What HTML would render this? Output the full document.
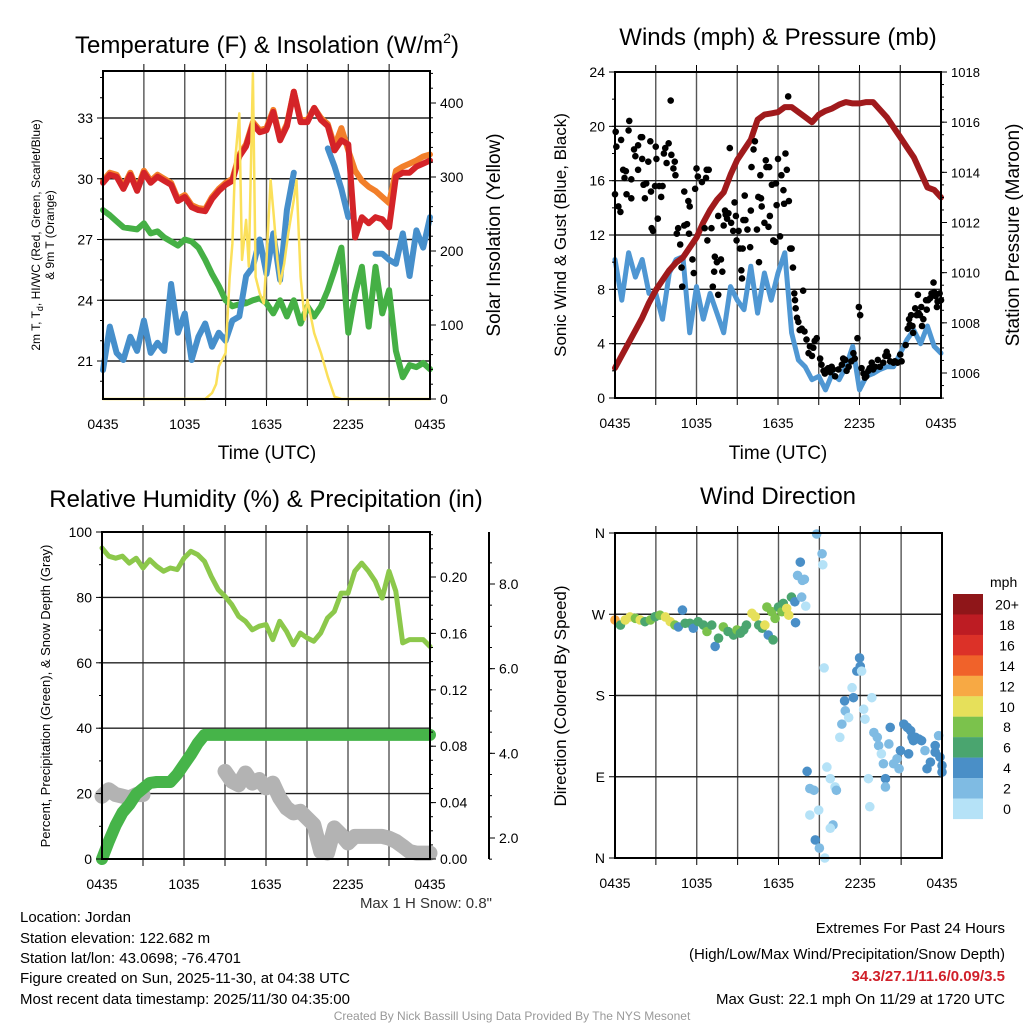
<!DOCTYPE html>
<html><head><meta charset="utf-8"><style>
body{margin:0;background:#fff}
svg{display:block;font-family:"Liberation Sans",sans-serif}
</style></head><body>
<svg id="s" width="1024" height="1024" viewBox="0 0 1024 1024">
<g id="grid"></g><g id="marks"></g><g id="axes"></g>
<g id="txt" fill="#000">
<text x="267" y="53" font-size="24" text-anchor="middle">Temperature (F) &amp; Insolation (W/m<tspan font-size="14" dy="-10">2</tspan><tspan dy="10">)</tspan></text>
<text x="778" y="45" font-size="24" text-anchor="middle">Winds (mph) &amp; Pressure (mb)</text>
<text x="266" y="507" font-size="24" text-anchor="middle">Relative Humidity (%) &amp; Precipitation (in)</text>
<text x="778" y="504" font-size="24" text-anchor="middle">Wind Direction</text>
<text x="267" y="459" font-size="19" text-anchor="middle">Time (UTC)</text>
<text x="778" y="459" font-size="19" text-anchor="middle">Time (UTC)</text>
<text transform="translate(40,235) rotate(-90)" font-size="12" text-anchor="middle">2m T, T<tspan font-size="9" dy="3">d</tspan><tspan dy="-3">, HI/WC (Red, Green, Scarlet/Blue)</tspan></text>
<text transform="translate(54,235) rotate(-90)" font-size="12" text-anchor="middle">&amp; 9m T (Orange)</text>
<text transform="translate(500,235) rotate(-90)" font-size="19" text-anchor="middle">Solar Insolation (Yellow)</text>
<text transform="translate(566,235) rotate(-90)" font-size="17" text-anchor="middle">Sonic Wind &amp; Gust (Blue, Black)</text>
<text transform="translate(1019,235) rotate(-90)" font-size="19" text-anchor="middle">Station Pressure (Maroon)</text>
<text transform="translate(50,696) rotate(-90)" font-size="13" text-anchor="middle">Percent, Precipitation (Green), &amp; Snow Depth (Gray)</text>
<text transform="translate(566,696) rotate(-90)" font-size="17" text-anchor="middle">Direction (Colored By Speed)</text>
<text x="492" y="908" font-size="15" fill="#333" text-anchor="end">Max 1 H Snow: 0.8"</text>
<g font-size="15">
<text x="20" y="922">Location: Jordan</text>
<text x="20" y="943">Station elevation: 122.682 m</text>
<text x="20" y="963">Station lat/lon: 43.0698; -76.4701</text>
<text x="20" y="983">Figure created on Sun, 2025-11-30, at 04:38 UTC</text>
<text x="20" y="1004">Most recent data timestamp: 2025/11/30 04:35:00</text>
</g>
<g font-size="15" text-anchor="end">
<text x="1005" y="933">Extremes For Past 24 Hours</text>
<text x="1005" y="959">(High/Low/Max Wind/Precipitation/Snow Depth)</text>
<text x="1005" y="981" fill="#d0202a" font-weight="bold">34.3/27.1/11.6/0.09/3.5</text>
<text x="1005" y="1004">Max Gust: 22.1 mph On 11/29 at 1720 UTC</text>
</g>
<text x="512" y="1020" font-size="12" fill="#999" text-anchor="middle">Created By Nick Bassill Using Data Provided By The NYS Mesonet</text>
</g>
</svg>
<script>
// ---- data ----
const hourT = [0,0.5,1,1.5,2,2.5,3,3.5,4,4.5,5,5.5,6,6.5,7,7.5,8,8.5,9,9.5,10,10.5,11,11.5,12,12.5,13,13.5,14,14.5,15,15.5,16,16.5,17,17.5,18,18.5,19,19.5,20,20.5,21,21.5,22,22.5,23,23.5,24];
const tempRed = [29.8,30.2,30.1,29.5,30.2,29.4,30.3,29.8,30.1,29.9,29.7,28.9,29.1,28.6,28.45,28.4,29.0,29.4,29.7,29.9,31.1,31.6,32.7,32.3,32.4,33.3,31.9,32.6,34.3,32.8,32.8,33.5,32.9,32.6,31.4,31.9,31.7,27.1,28.1,27.8,28.1,28.0,27.6,30.1,30.3,30.3,30.6,30.75,30.9];
const tempOrange = [29.9,30.3,30.2,29.6,30.3,29.5,30.4,29.9,30.2,30.0,29.8,29.0,29.2,28.7,28.55,28.5,29.1,29.5,29.8,30.0,31.2,31.7,32.8,32.4,32.5,33.4,32.0,32.7,34.3,32.9,32.9,33.5,33.0,32.7,31.6,32.5,31.4,30.4,29.9,29.6,29.4,29.1,28.8,30.4,30.6,30.75,30.9,31.1,31.2];
const tempGreen = [28.45,28.2,27.9,27.6,27.55,27.5,27.8,27.3,27.4,27.1,26.9,26.7,27.0,26.9,26.6,26.0,25.3,24.7,24.0,23.7,23.8,23.85,24.0,24.1,23.85,23.35,24.0,23.2,24.0,22.85,23.7,23.2,23.7,24.5,25.5,26.6,22.4,24.3,25.65,22.7,25.65,23.35,24.5,21.5,20.2,20.8,20.7,20.9,20.6];
const tempBlue = [20.55,22.7,21.4,21.05,22.2,21.5,23.0,21.4,21.9,21.5,24.8,22.4,23.35,21.05,22.2,22.85,21.7,22.4,22.0,23.0,23.2,25.2,25.65,27.0,25.3,27.3,25.0,28.45,30.3,null,30.9,null,null,31.5,30.6,29.5,28.1,null,null,null,26.3,26.3,26.0,25.8,27.3,25.2,27.45,26.6,28.1];
const solarTime = [0,7.5,8,8.3,8.5,8.8,9,9.3,9.5,9.7,10,10.2,10.5,10.7,11,11.2,11.5,11.8,12,12.3,12.5,12.8,13,13.3,13.6,14,14.2,14.5,14.8,15,15.3,15.5,16,16.5,17,17.5,24];
const solarValue = [0,0,8,20,44,55,62,165,210,323,386,188,242,179,440,165,143,129,188,296,255,188,156,183,224,269,296,165,107,134,107,89,62,30,3,0,0];
const pressure = [1006.2,1006.7,1007.2,1007.7,1008.2,1008.8,1009.3,1009.7,1010.1,1010.4,1010.6,1011.0,1011.4,1012.0,1012.5,1012.9,1013.2,1013.9,1014.5,1014.9,1015.3,1016.1,1016.3,1016.35,1016.4,1016.6,1016.6,1016.4,1016.2,1016.0,1016.3,1016.45,1016.55,1016.7,1016.8,1016.75,1016.75,1016.8,1016.8,1016.5,1016.2,1015.8,1015.4,1015.0,1014.6,1014.0,1013.4,1013.3,1013.0];
const windSpeed = [10.2,7.2,10.7,8.9,10.2,7.7,7.7,5.8,9.2,10.2,10.4,4.8,8.2,5.8,7.7,6.25,4.8,8.2,7.2,6.5,9.7,6.25,9.2,7.2,9.2,10.7,4.8,2.8,2.3,1.35,1.6,0.6,1.8,1.35,2.3,3.8,0.6,1.6,1.8,2.1,2.3,2.3,3.3,4.3,5.0,4.0,5.3,3.8,3.3];
const gustTime = [0.05,0.1,0.45,0,0.25,0.4,0.6,0.8,0.7,1.0,1.05,0.85,1.2,1.2,1.4,1.5,1.7,1.7,1.9,2.0,2.0,2.1,2.2,2.3,2.45,2.6,2.65,2.7,2.8,2.95,3.05,3.15,3.0,3.25,3.4,3.5,3.6,3.7,3.8,3.95,4.1,4.15,4.3,4.4,4.45,4.55,4.65,4.8,4.9,4.95,5.1,5.3,5.1,5.4,5.5,5.45,5.7,5.8,5.9,6.0,6.1,6.4,6.6,6.7,6.75,6.9,6.8,7.1,7.2,7.35,7.5,7.3,7.6,7.6,7.8,7.9,8.0,8.1,8.15,8.25,8.35,8.45,8.55,8.7,8.8,8.9,8.95,9.1,9.2,9.3,9.35,9.4,9.45,9.55,9.6,9.75,9.95,10.0,10.05,10.2,10.3,10.45,10.55,10.6,10.7,10.75,10.8,11.0,11.1,11.15,11.3,11.35,11.4,11.55,11.65,11.8,11.85,11.9,12.0,12.15,12.25,12.4,12.45,12.55,12.65,12.75,12.8,12.9,13.0,13.1,13.2,13.25,13.3,13.4,13.5,13.6,13.75,13.85,13.95,14.1,14.25,14.35,14.5,14.6,14.7,14.85,15.1,15.2,15.35,15.45,15.6,15.7,15.85,15.95,16.05,16.2,16.45,16.7,16.8,16.95,17.05,17.2,17.4,17.55,17.65,17.85,17.95,18.05,18.15,18.3,18.4,18.5,18.65,18.75,18.9,19.0,19.15,19.35,19.5,19.75,19.9,20.0,20.1,20.25,20.5,20.6,20.8,21.0,21.1,21.4,21.55,21.65,21.7,21.8,21.9,21.95,22.1,22.2,22.3,22.35,22.45,22.55,22.6,22.7,22.9,22.95,23.05,23.2,23.3,23.45,23.5,23.6,23.7,23.75,23.9,24.0];
const gustValue = [19.6,18.5,19.0,15.0,14.1,13.7,16.8,16.7,16.2,19.7,20.4,15.0,14.7,16.1,18.3,17.8,16.8,18.6,19.2,19.2,17.6,15.7,14.7,15.8,17.4,18.9,15.2,12.5,12.3,15.6,17.6,13.2,18.5,15.6,14.8,15.6,18.0,18.4,17.3,18.75,21.9,17.9,16.9,17.4,16.4,12.1,12.5,11.3,9.6,8.2,12.7,12.8,15.2,14.5,14.1,12.1,10.2,9.2,15.4,16.9,16.3,15.9,12.5,16.2,16.8,16.8,11.6,12.5,8.2,10.4,10.0,9.3,13.4,7.6,10.2,9.3,12.7,13.8,13.5,13.2,13.6,18.4,12.9,12.3,14.4,13.4,11.6,12.3,11.0,9.4,8.8,11.0,13.1,14.9,13.1,12.4,11.1,13.8,17.0,18.3,18.9,12.4,14.8,10.0,16.4,14.7,14.1,12.9,17.5,17.0,12.6,17.0,13.4,15.7,11.6,11.5,15.8,14.2,17.6,11.9,16.4,15.3,14.3,18.0,16.8,22.2,14.5,11.0,11.0,9.6,7.7,7.2,6.6,5.9,5.6,5.0,5.1,7.9,4.9,4.3,3.3,3.8,3.1,3.7,4.2,4.4,2.9,2.45,2.0,1.8,2.1,2.2,1.9,2.3,2.1,1.6,2.1,2.45,2.9,2.8,2.0,2.3,2.7,3.3,2.9,4.4,6.7,6.1,2.2,1.8,1.5,1.6,2.0,2.2,2.6,2.1,2.3,2.8,2.3,2.6,3.1,3.4,3.1,2.7,2.6,2.7,2.6,3.2,2.7,3.9,5.1,5.8,5.4,6.1,5.3,4.8,6.6,6.1,7.6,6.25,6.1,6.7,5.3,5.8,7.2,6.5,7.2,7.35,7.7,8.5,7.8,7.5,6.7,7.1,7.7,7.2];
const humidity = [95.1,92.6,92.0,92.6,90.5,92.0,89.0,91.5,89.5,88.0,89.0,88.5,92.0,94.1,93.1,91.0,86.4,82.4,80.3,77.8,74.2,72.7,70.1,71.2,71.7,67.1,72.7,69.6,65.5,69.1,67.6,66.6,69.1,73.7,75.7,81.3,81.3,88.0,90.5,88.0,84.9,79.8,88.0,81.9,66.1,67.1,67.1,67.1,65.0];
const precip = [0,0.0125,0.024,0.033,0.0385,0.046,0.05,0.054,0.0546,0.0546,0.0546,0.06,0.067,0.074,0.082,0.088,0.088,0.088,0.088,0.088,0.088,0.088,0.088,0.088,0.088,0.088,0.088,0.088,0.088,0.088,0.088,0.088,0.088,0.088,0.088,0.088,0.088,0.088,0.088,0.088,0.088,0.088,0.088,0.088,0.088,0.088,0.088,0.088,0.088];
const snowTrace = [19.2,21.2,19.7,19.2,18.7,19.7,19.7,null,null,null,null,null,null,null,null,null,null,null,26.8,23.8,22.7,26.3,23.2,24.3,21.7,23.2,18.7,15.6,14.1,14.6,12.5,10.5,2.3,1.8,9.5,7.4,4.9,6.9,6.9,6.9,6.9,6.9,6.4,5.4,3.9,2.3,1.8,1.8,1.8];
const dirTime = [0,0.4,0.75,1.1,1.5,1.85,2.2,2.6,2.95,3.3,3.7,4.05,4.4,4.65,4.95,5.15,5.5,5.75,6.1,6.5,6.75,7.1,7.35,7.6,7.95,8.3,8.7,8.95,9.2,9.45,9.65,10.05,10.3,10.55,10.8,11.0,11.25,11.15,11.5,11.6,11.75,12.0,12.25,12.35,12.6,12.75,12.95,13.2,13.25,13.4,13.7,13.75,13.9,14.0,13.6,14.8,15.2,15.25,15.35,14.1,14.3,14.6,14.3,14.95,14.7,15.0,15.4,15.55,15.8,16.15,16.25,16.0,15.8,16.5,16.65,16.85,16.9,17.15,17.4,17.5,17.75,18.0,17.95,18.1,18.25,18.35,18.6,18.7,18.85,19.0,19.25,19.35,19.55,19.7,19.85,19.85,20.1,20.2,20.45,20.7,20.85,20.95,21.2,21.45,21.7,21.8,22.05,22.3,22.5,22.75,22.9,23.15,23.5,23.5,23.75,23.85,24,24,21.55,21.9];
const dirValue = [263.7,258,263.7,267,265.5,263.7,261.8,263.7,267.3,269,267,261.8,258,256,274.6,260,260,254.5,261.8,258,250.9,258,234.4,243.5,256,250.9,247,252.7,249,252.7,258,271,267.3,258,254.5,258,247,278,272.8,241.7,265.5,278,272.8,282,276.5,269,289,283.8,260.7,313,289,307.6,308.7,279,327.7,358.9,337,324.8,210.6,96,76.9,75,47.6,53,20,11,0,100.7,87.9,78.7,75,36.6,33,133.7,148.3,174,163,155.6,188.6,177.6,207,212.4,221.6,207,164.8,153.8,87.9,56.8,177.6,139,133.7,124.5,115.4,104.4,87.9,78.7,126.3,144.7,104.4,109.9,98.9,119,148.3,144.7,141,133.7,133.7,131.8,130,119,98.9,106.2,117.2,124.5,135.5,111.7,95.2,102.5,115.4,130];
const dirSpeed = [12,6,10,10,9,10,7,8,7,9,10,10,8,5,4,7,7,4,7,6,8,7,4,6,8,7,7,8,6,7,6,10,10,7,6,10,4,8,8,6,9,7,8,6,10,10,6,4,4,3,3,2,3,1,4,3,3,1,1,4,3,3,1,1,4,3,1,1,1,1,2,3,1,1,3,4,3,1,1,4,4,4,4,1,1,1,1,1,1,3,3,3,1,3,4,3,3,4,3,3,3,4,4,4,4,4,4,4,4,3,4,4,4,4,3,4,4,4,4,4];
const speedLabels = ["20+","18","16","14","12","10","8","6","4","2","0"];
const speedColors = ["#8f1619","#bd1c23","#dc3128","#f0622a","#f7a944","#e6e05a","#7bc24c","#4aa56f","#4a8fc7","#7fbbe3","#b5e2f7"];
const xTickLabels = ["0435","1035","1635","2235","0435"];

// ---- helpers ----
const NS="http://www.w3.org/2000/svg";
const G=document.getElementById('grid'),M=document.getElementById('marks'),A=document.getElementById('axes');
function mk(tag,attrs,parent){const e=document.createElementNS(NS,tag);for(const k in attrs)e.setAttribute(k,attrs[k]);parent.appendChild(e);return e;}
function lin(d0,d1,r0,r1){return v=>r0+(v-d0)*(r1-r0)/(d1-d0);}
function pathD(xs,ys,fx,fy){let d='',pen=false;for(let i=0;i<xs.length;i++){if(ys[i]==null){pen=false;continue;}d+=(pen?'L':'M')+fx(xs[i]).toFixed(1)+','+fy(ys[i]).toFixed(1);pen=true;}return d;}
function line(name,xs,ys,fx,fy,color,w){const p=mk('path',{d:pathD(xs,ys,fx,fy),fill:'none',stroke:color,'stroke-width':w,'stroke-linejoin':'round','stroke-linecap':'round'},M);

return p;}
function txt(x,y,s,size,anchor,name){const t=mk('text',{x:x,y:y,'font-size':size,'text-anchor':anchor},A);t.textContent=s;

return t;}

function frame(P,hVals,fy){
  for(let h=3;h<24;h+=3){const x=P.fx(h);mk('line',{x1:x,x2:x,y1:P.y0,y2:P.y1,stroke:'#555','stroke-width':1.4},G);
    mk('line',{x1:x,x2:x,y1:P.y0-7,y2:P.y0,stroke:'#000','stroke-width':1},A);mk('line',{x1:x,x2:x,y1:P.y1,y2:P.y1+7,stroke:'#000','stroke-width':1},A);}
  hVals.forEach(v=>{const y=fy(v);mk('line',{x1:P.x0,x2:P.x1,y1:y,y2:y,stroke:'#222','stroke-width':1.4},G);});
  const r=mk('rect',{x:P.x0,y:P.y0,width:P.x1-P.x0,height:P.y1-P.y0,fill:'none',stroke:'#000','stroke-width':2},A);
  
  
  xTickLabels.forEach((s,i)=>{txt(P.fx(i*6),P.y1+30,s,14,'middle',P.name+'-x-tick');});
}
function yTicks(P,x,vals,fy,labels,side,minor,size){
  vals.forEach((v,i)=>{const y=fy(v);const dx=side<0?-6:6;mk('line',{x1:x,x2:x+dx,y1:y,y2:y,stroke:'#000','stroke-width':1},A);
    if(labels)txt(x+(side<0?-10:10),y+5,labels[i],size||14,side<0?'end':'start',P.name+'-y-tick');});
  (minor||[]).forEach(v=>{const y=fy(v);mk('line',{x1:x,x2:x+(side<0?-3:3),y1:y,y2:y,stroke:'#000','stroke-width':1},A);});
}
function range(a,b,s){const r=[];for(let v=a;v<=b+1e-9;v+=s)r.push(+v.toFixed(4));return r;}

// ---- Panel 1 ----
const P1={name:'temp',x0:103,x1:430,y0:71,y1:399};P1.fx=lin(0,24,P1.x0,P1.x1);
const fT=lin(21,33,361,118),fS=lin(0,400,399,103);
frame(P1,[21,24,27,30,33],fT);
yTicks(P1,P1.x0,[21,24,27,30,33],fT,["21","24","27","30","33"],-1,range(20,35,1));
yTicks(P1,P1.x1,[0,100,200,300,400],fS,["0","100","200","300","400"],1,range(0,440,20));
line('tempGreen-line',hourT,tempGreen,P1.fx,fT,'#45b045',6);
line('tempBlue-line',hourT,tempBlue,P1.fx,fT,'#468fcb',6);
line('tempOrange-line',hourT,tempOrange,P1.fx,fT,'#f27f2a',6);
line('tempRed-line',hourT,tempRed,P1.fx,fT,'#d42328',6);
line('solar-line',solarTime,solarValue,P1.fx,fS,'#fbe05a',2.5);

// ---- Panel 2 ----
const P2={name:'winds',x0:615,x1:941,y0:72,y1:398};P2.fx=lin(0,24,P2.x0,P2.x1);
const fW=lin(0,24,398,72),fP=lin(1006,1018,373,72);
frame(P2,[4,8,12,16,20],fW);
yTicks(P2,P2.x0,[0,4,8,12,16,20,24],fW,["0","4","8","12","16","20","24"],-1,range(0,24,2));
yTicks(P2,P2.x1,[1006,1008,1010,1012,1014,1016,1018],fP,["1006","1008","1010","1012","1014","1016","1018"],1,range(1005,1018,0.5),13);
line('wind-speed-line',hourT,windSpeed,P2.fx,fW,'#4f97d3',5);
line('pressure-line',hourT,pressure,P2.fx,fP,'#a01a1c',6);
gustTime.forEach((t,i)=>{const c=mk('circle',{cx:P2.fx(t),cy:fW(gustValue[i]),r:3.3,fill:'#000'},M);

});

// ---- Panel 3 ----
const P3={name:'humidity',x0:102,x1:430,y0:532,y1:859};P3.fx=lin(0,24,P3.x0,P3.x1);
const fH=lin(0,100,859,532),fR=lin(0,0.2,859,577),fSn=lin(2,8,838,584);
frame(P3,[20,40,60,80],fH);
yTicks(P3,P3.x0,[0,20,40,60,80,100],fH,["0","20","40","60","80","100"],-1,range(0,100,10));
yTicks(P3,P3.x1,[0,0.04,0.08,0.12,0.16,0.2],fR,["0.00","0.04","0.08","0.12","0.16","0.20"],1,range(0,0.23,0.01));
mk('line',{x1:489,x2:489,y1:532,y2:859,stroke:'#000','stroke-width':2},A);
yTicks(P3,489,[2,4,6,8],fSn,["2.0","4.0","6.0","8.0"],1,range(1.5,8.5,0.5));
line('snow-depth-line',hourT,snowTrace,P3.fx,fH,'#b3b3b3',15);
line('precip-line',hourT,precip,P3.fx,fR,'#46b449',12);
line('humidity-line',hourT,humidity,P3.fx,fH,'#8cc84b',5);

// ---- Panel 4 ----
const P4={name:'direction',x0:615,x1:942,y0:533,y1:858};P4.fx=lin(0,24,P4.x0,P4.x1);
const fD=lin(0,360,858,533);
frame(P4,[90,180,270],fD);
yTicks(P4,P4.x0,[0,90,180,270,360],fD,["N","E","S","W","N"],-1,[]);
dirTime.forEach((t,i)=>{const b=Math.min(10,Math.floor(dirSpeed[i]/2));const col=speedColors[10-b];
const c=mk('circle',{cx:P4.fx(t),cy:fD(dirValue[i]),r:4.8,fill:col},M);

});
txt(990,587,'mph',14,'start','colorbar-title');
speedLabels.forEach((s,i)=>{const y=594+i*20.45;const r=mk('rect',{x:953,y:y,width:30,height:20.6,fill:speedColors[i]},A);


txt(1007,y+15.5,s,14,'middle','colorbar-label');});
</script>
</body></html>
